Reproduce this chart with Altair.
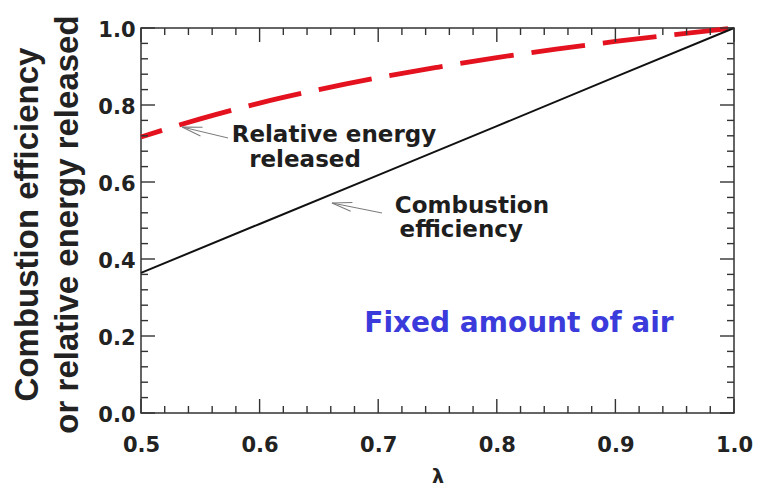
import altair as alt
import pandas as pd

# Air-excess ratio and the two curves
lam = [0.50, 0.55, 0.60, 0.65, 0.70, 0.75, 0.80, 0.85, 0.90, 0.95, 1.00]
energy_released = [0.717, 0.764, 0.805, 0.840, 0.871, 0.898, 0.923, 0.945, 0.965, 0.983, 1.000]
comb_lam = [0.5, 0.6, 0.7, 0.8, 0.9, 1.0]
comb_eff = [0.364, 0.491, 0.618, 0.745, 0.873, 1.000]

# Axis tick values
x_major = [0.5, 0.6, 0.7, 0.8, 0.9, 1.0]
x_minor = [0.52, 0.54, 0.56, 0.58, 0.62, 0.64, 0.66, 0.68, 0.72, 0.74, 0.76, 0.78,
           0.82, 0.84, 0.86, 0.88, 0.92, 0.94, 0.96, 0.98]
y_major = [0.0, 0.2, 0.4, 0.6, 0.8, 1.0]
y_minor = [0.04, 0.08, 0.12, 0.16, 0.24, 0.28, 0.32, 0.36, 0.44, 0.48, 0.52, 0.56,
           0.64, 0.68, 0.72, 0.76, 0.84, 0.88, 0.92, 0.96]

# Curve labels (one row per text line) and their pointer arrows
label_text = ["Relative energy", "released", "Combustion", "efficiency"]
label_x = [0.6627, 0.6383, 0.779, 0.770]
label_y = [0.7039, 0.639, 0.5195, 0.457]
arrow_tip_x = [0.5346, 0.661]
arrow_tip_y = [0.7429, 0.5455]
arrow_tail_x = [0.5734, 0.7032]
arrow_tail_y = [0.7143, 0.5195]
arrow_angle = [13.4, 11.3]

note_text = ["Fixed amount of air"]
note_x = [0.8187]
note_y = [0.2104]

FRAME = "#333333"
BOLD_FONT = "DejaVu Sans"
W, H = 593, 385

xs = alt.Scale(domain=[0.5, 1.0], nice=False, zero=False)
ys = alt.Scale(domain=[0.0, 1.0], nice=False)

x_axis = alt.Axis(
    values=x_major, format=".1f", grid=False, ticks=False, tickSize=0, domain=False,
    labelFont=BOLD_FONT, labelFontWeight="bold", labelFontSize=21, labelColor="#222",
    labelBaseline="alphabetic", labelPadding=38, labelFlush=False, labelOverlap=False,
    title="λ", titleFont=BOLD_FONT, titleFontSize=19, titleFontWeight="bold",
    titleColor="#222", titleBaseline="alphabetic", titleX=W / 2, titleY=69,
    titleAlign="center",
)
y_axis = alt.Axis(
    values=y_major, format=".1f", grid=False, ticks=False, tickSize=0, domain=False,
    labelFont=BOLD_FONT, labelFontWeight="bold", labelFontSize=21, labelColor="#222",
    labelPadding=6, labelOffset=2, labelFlush=False, labelOverlap=False,
    title=["Combustion efficiency", "or relative energy released"],
    titleFont="Liberation Sans", titleFontSize=33, titleFontWeight="bold",
    titleColor="#222", titleAngle=-90, titleAlign="center",
    titleBaseline="alphabetic", titleLineHeight=40, titleX=-104, titleY=196,
)


def X(field):
    return alt.X(field, scale=xs, axis=x_axis)


def Y(field):
    return alt.Y(field, scale=ys, axis=y_axis)


energy_df = pd.DataFrame({"lam": lam, "val": energy_released})
comb_df = pd.DataFrame({"lam": comb_lam, "val": comb_eff})

energy = alt.Chart(energy_df).mark_line(
    color="#e3121e", strokeWidth=4.8, strokeDash=[54, 18], strokeDashOffset=32,
    interpolate="monotone", strokeCap="butt",
).encode(x=X("lam:Q"), y=Y("val:Q"))

comb = alt.Chart(comb_df).mark_line(color="#111111", strokeWidth=2).encode(
    x=X("lam:Q"), y=Y("val:Q"),
)


def tick_layer(xvals, yvals, orient, length, dx, dy):
    df = pd.DataFrame({"x": xvals, "y": yvals})
    return alt.Chart(df).mark_tick(
        orient=orient, size=length, thickness=1.4, color=FRAME, opacity=1,
        xOffset=dx, yOffset=dy,
    ).encode(x=X("x:Q"), y=Y("y:Q"))


MAJ, MIN = 14, 7
ticks = [
    tick_layer(x_major, [0.0] * len(x_major), "vertical", MAJ, 0, -MAJ / 2),
    tick_layer(x_minor, [0.0] * len(x_minor), "vertical", MIN, 0, -MIN / 2),
    tick_layer(x_major, [1.0] * len(x_major), "vertical", MAJ, 0, MAJ / 2),
    tick_layer(x_minor, [1.0] * len(x_minor), "vertical", MIN, 0, MIN / 2),
    tick_layer([0.5] * len(y_major), y_major, "horizontal", MAJ, MAJ / 2, 0),
    tick_layer([0.5] * len(y_minor), y_minor, "horizontal", MIN, MIN / 2, 0),
    tick_layer([1.0] * len(y_major), y_major, "horizontal", MAJ, -MAJ / 2, 0),
    tick_layer([1.0] * len(y_minor), y_minor, "horizontal", MIN, -MIN / 2, 0),
]

arrow_df = pd.DataFrame({
    "tx": arrow_tip_x, "ty": arrow_tip_y,
    "sx": arrow_tail_x, "sy": arrow_tail_y, "ang": arrow_angle,
})
shafts = alt.Chart(arrow_df).mark_rule(color="#7a7a7a", strokeWidth=1).encode(
    x=X("sx:Q"), y=Y("sy:Q"), x2="tx:Q", y2="ty:Q",
)
heads = alt.Chart(arrow_df).mark_point(
    shape="M0,0L4,-0.9M0,0L4,0.9", size=100, filled=False,
    color="#7a7a7a", strokeWidth=1, opacity=1,
).encode(
    x=X("tx:Q"), y=Y("ty:Q"),
    angle=alt.Angle("ang:Q", scale=None),
)

labels_df = pd.DataFrame({"t": label_text, "x": label_x, "y": label_y})
labels = alt.Chart(labels_df).mark_text(
    font=BOLD_FONT, fontWeight="bold", fontSize=23, color="#1e1e1e",
    align="center", baseline="alphabetic",
).encode(x=X("x:Q"), y=Y("y:Q"), text="t:N")

note_df = pd.DataFrame({"t": note_text, "x": note_x, "y": note_y})
note = alt.Chart(note_df).mark_text(
    font=BOLD_FONT, fontWeight="bold", fontSize=28, color="#3b3bdc",
    align="center", baseline="alphabetic",
).encode(x=X("x:Q"), y=Y("y:Q"), text="t:N")

chart = alt.layer(
    energy, comb, *ticks, shafts, heads, labels, note,
).properties(
    width=W, height=H,
    autosize=alt.AutoSizeParams(type="none"),
    padding={"left": 141, "top": 28, "right": 25, "bottom": 75},
    background="white",
).configure_view(
    stroke=FRAME, strokeWidth=1.5,
)

chart.save("out.html", embed_options={"renderer": "svg", "actions": False})
